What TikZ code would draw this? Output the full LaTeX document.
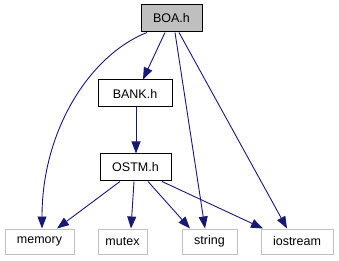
\documentclass[tikz,border=0pt]{standalone}
\usepackage{fontspec}
\setmainfont{Liberation Sans}
\usetikzlibrary{arrows.meta}
\definecolor{edgeblue}{HTML}{191970}
\definecolor{extgrey}{HTML}{BFBFBF}
\begin{document}
\begin{tikzpicture}[x=1pt,y=-1pt,
  every node/.style={font=\fontsize{12.5}{15}\selectfont, inner sep=0pt, line width=1pt},
  localfile/.style={draw=black, minimum height=27pt},
  mainfile/.style={draw=black, fill=extgrey, minimum height=27pt},
  sysfile/.style={draw=extgrey, minimum height=25pt},
  dep/.style={draw=edgeblue, line width=0.9pt, -{Triangle[length=12pt,width=9pt]}, color=edgeblue}]
\useasboundingbox (0,0) rectangle (339,261);
\fill[white] (0,0) rectangle (339,261);

\node[mainfile, minimum width=61pt] (boa) at (171.5,18.5) {BOA.h};
\node[localfile, minimum width=74pt] (bank) at (135,93.5) {BANK.h};
\node[localfile, minimum width=71pt] (ostm) at (135.5,167.5) {OSTM.h};
\node[sysfile, minimum width=69pt] (memory) at (39.5,241.5) {memory};
\node[sysfile, minimum width=49pt] (mutex) at (122.5,241.5) {mutex};
\node[sysfile, minimum width=55pt] (string) at (209.5,241.5) {string};
\node[sysfile, minimum width=72pt] (iostream) at (297,241.5) {iostream};

% includes of BOA.h
\draw[dep] ([xshift=-24.5pt]boa.south) .. controls (90,55) and (42,130) .. ([xshift=2.5pt]memory.north);
\draw[dep] ([xshift=-6.5pt]boa.south) -- ([xshift=8pt]bank.north);
\draw[dep] ([xshift=3.5pt]boa.south) -- ([xshift=-4.5pt]string.north);
\draw[dep] ([xshift=7.5pt]boa.south) -- ([xshift=-10pt]iostream.north);

% includes of BANK.h
\draw[dep] ([xshift=1pt]bank.south) -- ([xshift=0.5pt]ostm.north);

% includes of OSTM.h
\draw[dep] ([xshift=-15.5pt]ostm.south) -- ([xshift=17.5pt]memory.north);
\draw[dep] ([xshift=-1.5pt]ostm.south) -- ([xshift=8.5pt]mutex.north);
\draw[dep] ([xshift=12.5pt]ostm.south) -- ([xshift=-19.5pt]string.north);
\draw[dep] ([xshift=26.5pt]ostm.south) -- ([xshift=-34pt]iostream.north);
\end{tikzpicture}
\end{document}
